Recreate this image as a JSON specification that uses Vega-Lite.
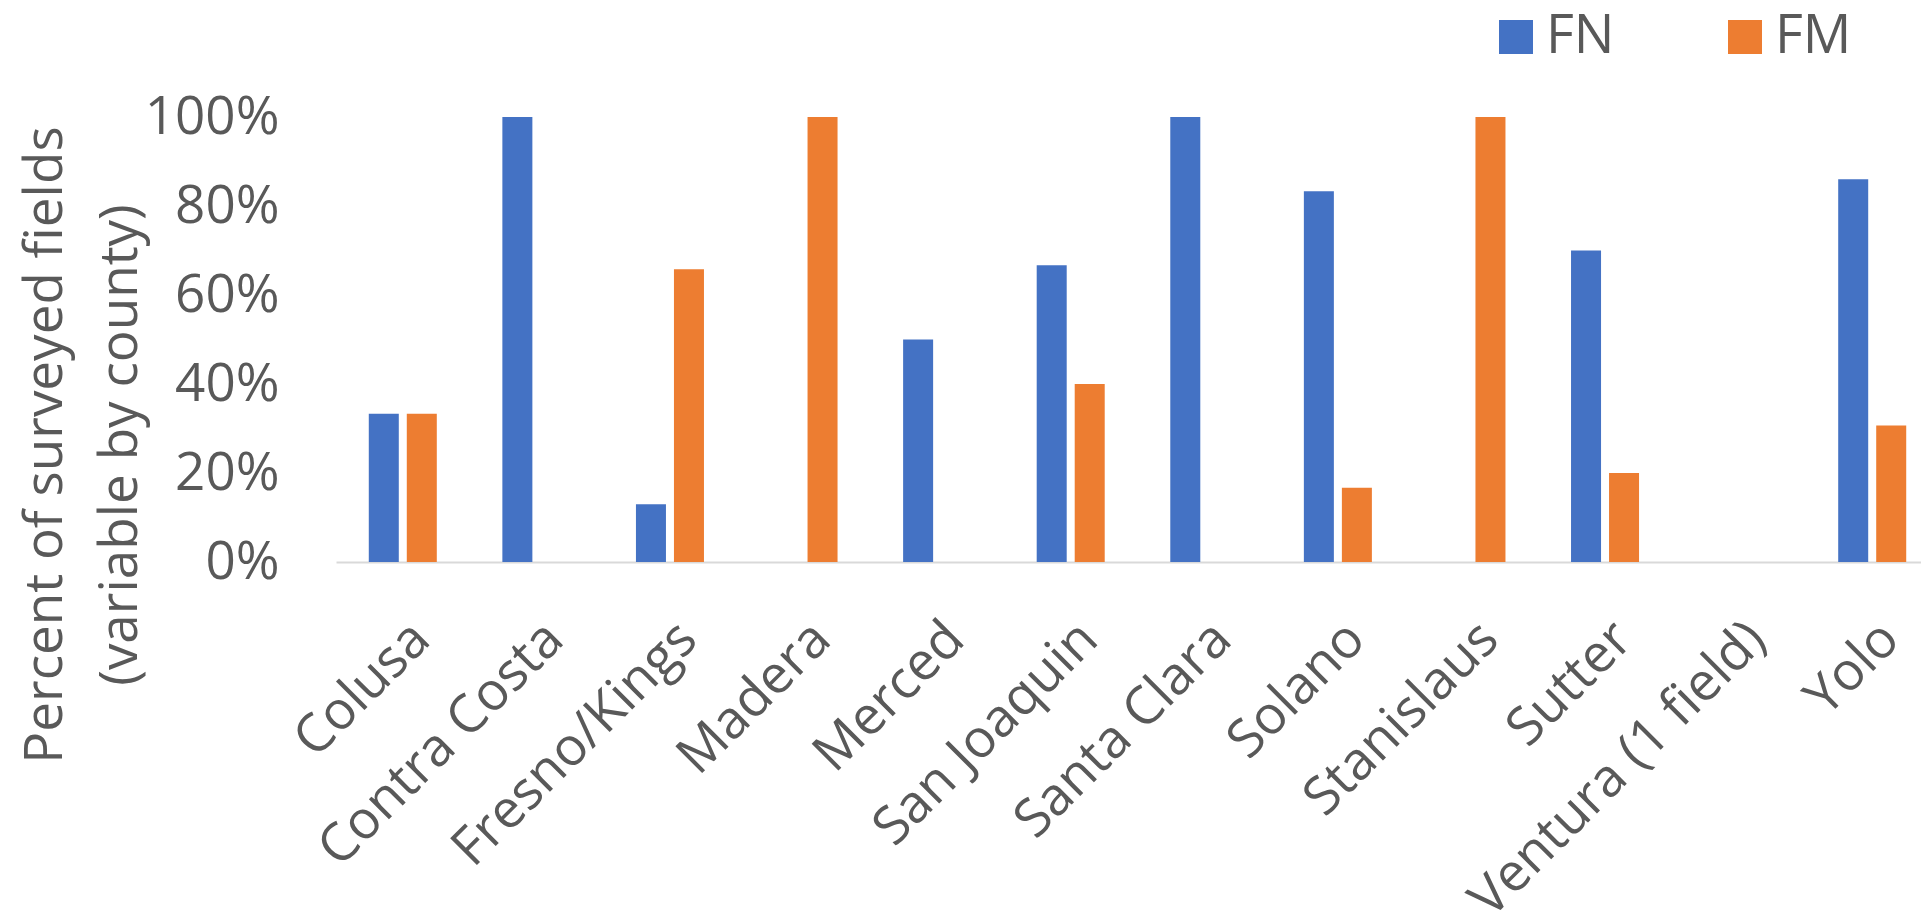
{
  "$schema": "https://vega.github.io/schema/vega-lite/v6.json",
  "autosize": {"type": "none"},
  "width": 1585,
  "height": 445,
  "padding": {"left": 336, "top": 117, "right": 0, "bottom": 359},
  "background": "white",
  "config": {
    "font": "Open Sans",
    "view": {"stroke": null}
  },
  "data": {
    "values": [
      {"county": "Colusa", "type": "FN", "share": 0.333},
      {"county": "Colusa", "type": "FM", "share": 0.333},
      {"county": "Contra Costa", "type": "FN", "share": 1.0},
      {"county": "Contra Costa", "type": "FM", "share": 0},
      {"county": "Fresno/Kings", "type": "FN", "share": 0.13},
      {"county": "Fresno/Kings", "type": "FM", "share": 0.658},
      {"county": "Madera", "type": "FN", "share": 0},
      {"county": "Madera", "type": "FM", "share": 1.0},
      {"county": "Merced", "type": "FN", "share": 0.5},
      {"county": "Merced", "type": "FM", "share": 0},
      {"county": "San Joaquin", "type": "FN", "share": 0.667},
      {"county": "San Joaquin", "type": "FM", "share": 0.4},
      {"county": "Santa Clara", "type": "FN", "share": 1.0},
      {"county": "Santa Clara", "type": "FM", "share": 0},
      {"county": "Solano", "type": "FN", "share": 0.833},
      {"county": "Solano", "type": "FM", "share": 0.167},
      {"county": "Stanislaus", "type": "FN", "share": 0},
      {"county": "Stanislaus", "type": "FM", "share": 1.0},
      {"county": "Sutter", "type": "FN", "share": 0.7},
      {"county": "Sutter", "type": "FM", "share": 0.2},
      {"county": "Ventura (1 field)", "type": "FN", "share": 0},
      {"county": "Ventura (1 field)", "type": "FM", "share": 0},
      {"county": "Yolo", "type": "FN", "share": 0.86},
      {"county": "Yolo", "type": "FM", "share": 0.307}
    ]
  },
  "mark": {"type": "bar"},
  "encoding": {
    "x": {
      "field": "county",
      "type": "nominal",
      "sort": null,
      "scale": {"range": [0, 1603], "paddingInner": 0, "paddingOuter": 0},
      "axis": {
        "title": null,
        "ticks": false,
        "domainColor": "#D9D9D9",
        "domainWidth": 2,
        "labelAngle": -45,
        "labelFontSize": 53,
        "labelColor": "#595959",
        "labelPadding": 50,
        "labelDx": -12,
        "labelOverlap": false,
        "labelLimit": 0
      }
    },
    "xOffset": {
      "field": "type",
      "type": "nominal",
      "sort": ["FN", "FM"],
      "scale": {"paddingInner": 0.2105, "paddingOuter": 0.8625}
    },
    "y": {
      "field": "share",
      "type": "quantitative",
      "scale": {"domain": [0, 1], "nice": false},
      "axis": {
        "values": [0, 0.2, 0.4, 0.6, 0.8, 1],
        "format": ".0%",
        "grid": false,
        "domain": false,
        "ticks": false,
        "labelFontSize": 53,
        "labelColor": "#595959",
        "labelPadding": 57,
        "title": ["Percent of surveyed fields", "(variable by county)"],
        "titleFontSize": 53,
        "titleFontWeight": "normal",
        "titleColor": "#595959",
        "titleLineHeight": 75,
        "titleAngle": -90,
        "titleAlign": "center",
        "titleBaseline": "middle",
        "titleX": -291,
        "titleY": 327.5
      }
    },
    "color": {
      "field": "type",
      "type": "nominal",
      "sort": ["FN", "FM"],
      "scale": {"domain": ["FN", "FM"], "range": ["#4472C4", "#ED7D31"]},
      "legend": {
        "title": null,
        "orient": "none",
        "direction": "horizontal",
        "legendX": 1153,
        "legendY": -107,
        "padding": 0,
        "symbolType": "square",
        "symbolSize": 1156,
        "symbolStrokeWidth": 0,
        "symbolOpacity": 1,
        "labelFontSize": 54,
        "labelColor": "#595959",
        "labelOffset": 3,
        "columnPadding": 103
      }
    }
  }
}
